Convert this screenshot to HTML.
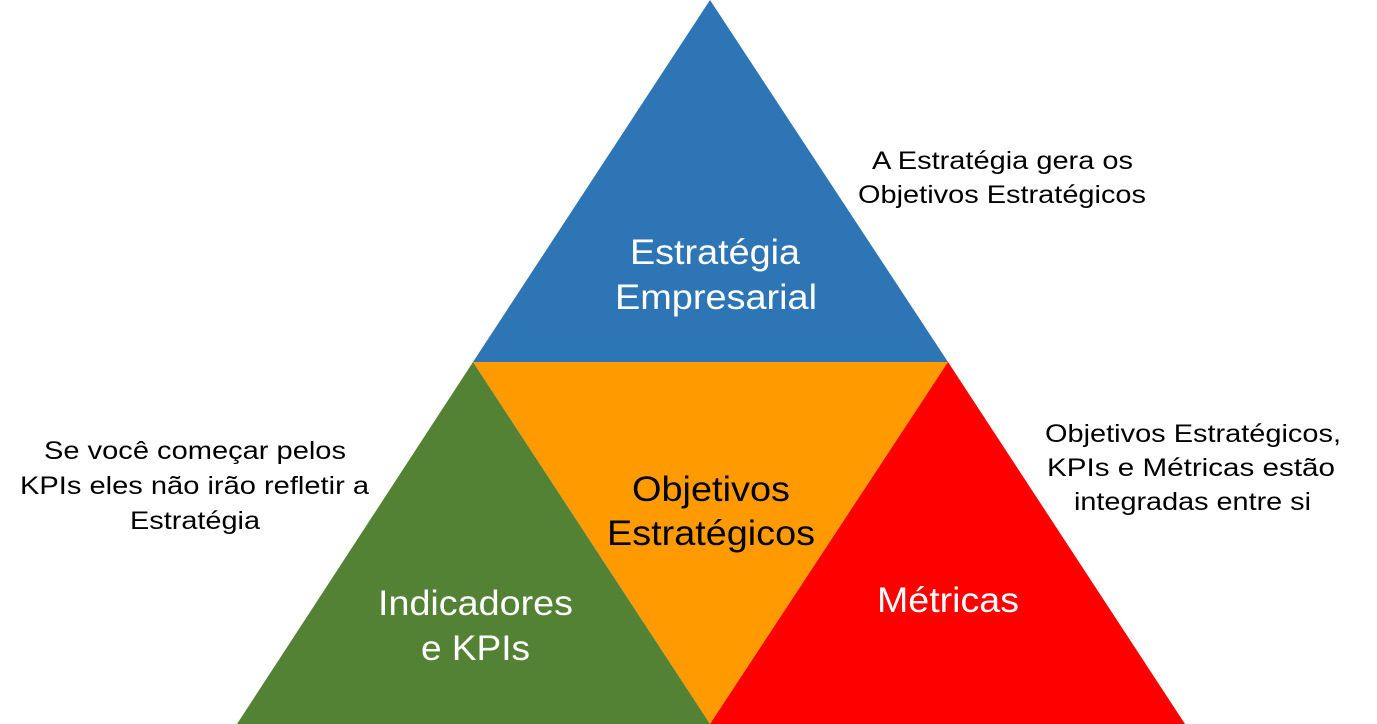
<!DOCTYPE html>
<html><head><meta charset="utf-8"><style>
html,body{margin:0;padding:0;background:#fff;}
svg{display:block;}
text{font-family:"Liberation Sans",Arial,sans-serif;}
</style></head><body>
<svg width="1377" height="724" viewBox="0 0 1377 724" xmlns="http://www.w3.org/2000/svg">
<polygon points="710,0 948,362 473,362" fill="#2E75B6"/>
<polygon points="473,362 948,362 710,724" fill="#FF9B00"/>
<polygon points="473,362 710,724 237,724" fill="#548235"/>
<polygon points="948,362 1185,724 710,724" fill="#FF0000"/>
<g fill="#fff" font-size="35" lengthAdjust="spacingAndGlyphs">
<text x="630" y="264" textLength="170" lengthAdjust="spacingAndGlyphs">Estratégia</text>
<text x="615" y="309" textLength="202" lengthAdjust="spacingAndGlyphs">Empresarial</text>
<text x="378" y="615" textLength="195" lengthAdjust="spacingAndGlyphs">Indicadores</text>
<text x="421" y="660" textLength="109" lengthAdjust="spacingAndGlyphs">e KPIs</text>
<text x="877" y="612" textLength="142" lengthAdjust="spacingAndGlyphs">Métricas</text>
</g>
<g fill="#000" font-size="35">
<text x="632" y="501" textLength="158" lengthAdjust="spacingAndGlyphs">Objetivos</text>
<text x="607" y="545" textLength="208" lengthAdjust="spacingAndGlyphs">Estratégicos</text>
</g>
<g fill="#000" font-size="25">
<text x="872" y="169" textLength="261" lengthAdjust="spacingAndGlyphs">A Estratégia gera os</text>
<text x="858" y="203" textLength="288" lengthAdjust="spacingAndGlyphs">Objetivos Estratégicos</text>
<text x="44" y="459" textLength="302" lengthAdjust="spacingAndGlyphs">Se você começar pelos</text>
<text x="20" y="494" textLength="349" lengthAdjust="spacingAndGlyphs">KPIs eles não irão refletir a</text>
<text x="130" y="529" textLength="130" lengthAdjust="spacingAndGlyphs">Estratégia</text>
<text x="1045" y="442" textLength="296" lengthAdjust="spacingAndGlyphs">Objetivos Estratégicos,</text>
<text x="1047" y="476" textLength="288" lengthAdjust="spacingAndGlyphs">KPIs e Métricas estão</text>
<text x="1074" y="510" textLength="237" lengthAdjust="spacingAndGlyphs">integradas entre si</text>
</g>
</svg>
</body></html>
